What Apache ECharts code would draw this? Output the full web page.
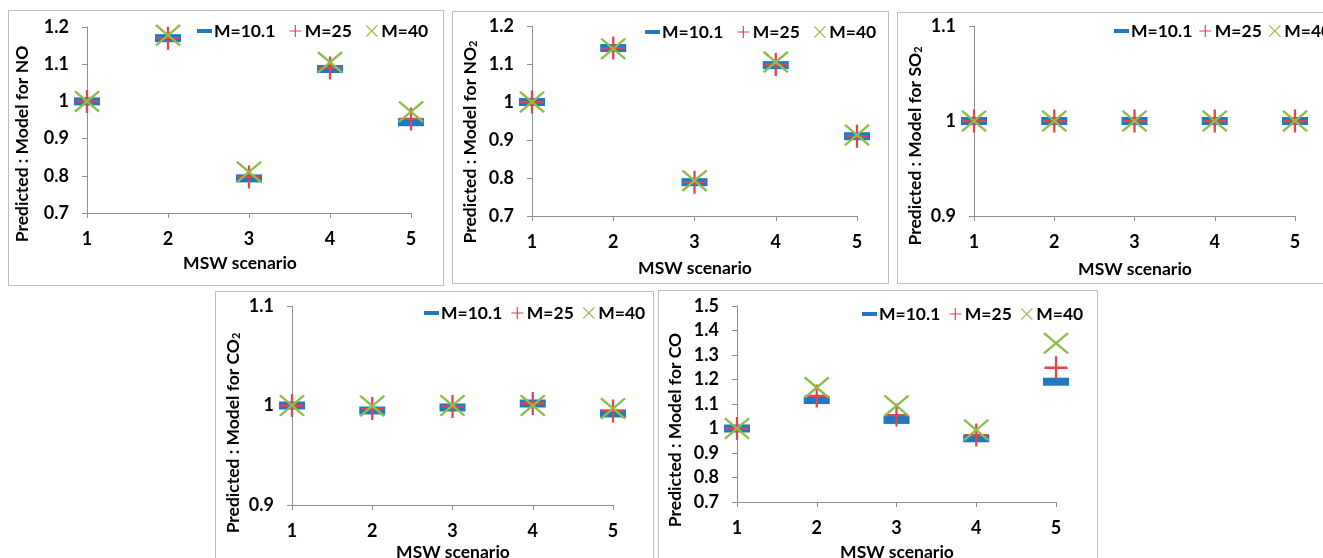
<!DOCTYPE html>
<html>
<head>
<meta charset="utf-8">
<script src="https://cdn.jsdelivr.net/npm/echarts@6/dist/echarts.min.js"></script>
<style>
html,body{margin:0;padding:0;background:#fff;}
#chart{width:1323px;height:558px;}
</style>
</head>
<body>
<div id="chart"></div>
<script>
// ---- data ----
const scenarios = [1, 2, 3, 4, 5];
const seriesNames = ['M=10.1', 'M=25', 'M=40'];

const NO_m10 = [1.000, 1.170, 0.793, 1.087, 0.944];
const NO_m25 = [1.000, 1.170, 0.797, 1.090, 0.953];
const NO_m40 = [1.000, 1.178, 0.810, 1.105, 0.972];

const NO2_m10 = [1.000, 1.142, 0.789, 1.097, 0.910];
const NO2_m25 = [1.000, 1.142, 0.789, 1.099, 0.910];
const NO2_m40 = [1.000, 1.140, 0.793, 1.105, 0.913];

const SO2_m10 = [1.000, 1.000, 1.000, 1.000, 1.000];
const SO2_m25 = [1.000, 1.000, 1.000, 1.000, 1.000];
const SO2_m40 = [1.000, 1.000, 1.000, 1.000, 1.000];

const CO2_m10 = [1.000, 0.995, 0.998, 1.002, 0.992];
const CO2_m25 = [1.000, 0.997, 0.999, 1.002, 0.9945];
const CO2_m40 = [1.000, 0.9995, 1.000, 1.000, 0.997];

const CO_m10 = [1.000, 1.116, 1.035, 0.960, 1.191];
const CO_m25 = [1.000, 1.133, 1.055, 0.973, 1.248];
const CO_m40 = [1.000, 1.167, 1.093, 0.994, 1.348];

const yTicksNO = [0.7, 1.2, 0.1];
const yTicksNO2 = [0.7, 1.2, 0.1];
const yTicksSO2 = [0.9, 1.1, 0.1];
const yTicksCO2 = [0.9, 1.1, 0.1];
const yTicksCO = [0.7, 1.5, 0.1];

const xTitle = 'MSW scenario';
const yTitleBase = 'Predicted : Model for ';

// ---- styling ----
const FONT = 'Lato';
const FS = 18;
const FL = 17.5;
const FT = 17.5;
const BLUE = '#1f78c1';
const RED = '#e2444a';
const GREEN = '#8cbd48';
const AXIS = '#8f8f8f';
const FRAME = '#bdbdbd';

const SYM_DASH = 'path://M0,0h30v8h-30z';
const SYM_PLUS = 'path://M45,0h10v45h45v10h-45v45h-10v-45h-45v-10h45z';
const SYM_X = 'path://M0,7L7,0L50,43L93,0L100,7L57,50L100,93L93,100L50,57L7,100L0,93L43,50Z';

const panels = [
  { sets: [NO_m10, NO_m25, NO_m40], y: yTicksNO, sub: 'NO', subNum: '',
    grid: {left: 87, top: 27, width: 324, height: 186},
    frame: [8, 10, 435, 275], legend: {left: 192, top: 17, gap: 14},
    yt: [22, 144], xt: [240, 263] },
  { sets: [NO2_m10, NO2_m25, NO2_m40], y: yTicksNO2, sub: 'NO', subNum: '2',
    grid: {left: 532, top: 26, width: 325, height: 190},
    frame: [452, 11, 436, 272], legend: {left: 640, top: 18, gap: 14},
    yt: [470, 142], xt: [695, 268] },
  { sets: [SO2_m10, SO2_m25, SO2_m40], y: yTicksSO2, sub: 'SO', subNum: '2',
    grid: {left: 974, top: 26, width: 321, height: 190},
    frame: [897, 12, 440, 271], legend: {left: 1109, top: 17, gap: 7},
    yt: [915, 146], xt: [1135, 269] },
  { sets: [CO2_m10, CO2_m25, CO2_m40], y: yTicksCO2, sub: 'CO', subNum: '2',
    grid: {left: 292, top: 306, width: 321, height: 199},
    frame: [215, 291, 438, 280], legend: {left: 419, top: 299, gap: 9},
    yt: [233, 433], xt: [453, 552] },
  { sets: [CO_m10, CO_m25, CO_m40], y: yTicksCO, sub: 'CO', subNum: '',
    grid: {left: 737, top: 306, width: 319, height: 196},
    frame: [658, 290, 439, 280], legend: {left: 857, top: 300, gap: 9},
    yt: [675, 430], xt: [897, 552] }
];

const grids = [], xAxes = [], yAxes = [], series = [], legends = [], graphics = [];
const symbols = [SYM_DASH, SYM_PLUS, SYM_X];
const sizes = [[26, 8], [23, 23], [26, 22]];
const colors = [BLUE, RED, GREEN];

panels.forEach((p, i) => {
  graphics.push({
    type: 'rect', z: -1, silent: true,
    shape: {x: p.frame[0] + 0.5, y: p.frame[1] + 0.5, width: p.frame[2], height: p.frame[3]},
    style: {fill: 'none', stroke: FRAME, lineWidth: 1}
  });
  grids.push(Object.assign({containLabel: false}, p.grid));
  xAxes.push({
    gridIndex: i, type: 'value', min: 1, max: 5, interval: 1,
    splitLine: {show: false},
    axisLine: {show: true, lineStyle: {color: AXIS, width: 1}},
    axisTick: {show: true, length: 5, lineStyle: {color: AXIS}},
    axisLabel: {margin: 17, color: '#000', fontFamily: FONT, fontWeight: 'bold', fontSize: FS}
  });
  yAxes.push({
    gridIndex: i, type: 'value', min: p.y[0], max: p.y[1], interval: p.y[2],
    splitLine: {show: false},
    axisLine: {show: true, lineStyle: {color: AXIS, width: 1}},
    axisTick: {show: true, length: 5, lineStyle: {color: AXIS}},
    axisLabel: {margin: 18, color: '#000', fontFamily: FONT, fontWeight: 'bold', fontSize: FS}
  });
  p.sets.forEach((vals, k) => {
    series.push({
      type: 'scatter', name: seriesNames[k], xAxisIndex: i, yAxisIndex: i,
      clip: false, symbol: symbols[k], symbolSize: sizes[k],
      itemStyle: {color: colors[k], opacity: 1},
      data: scenarios.map((s, j) => [s, vals[j]]),
      z: 2 + k
    });
  });
  legends.push({
    left: p.legend.left, top: p.legend.top, itemGap: p.legend.gap, width: 600,
    itemWidth: 15, itemHeight: 12, orient: 'horizontal',
    data: seriesNames, selectedMode: false,
    textStyle: {color: '#000', fontFamily: FONT, fontWeight: 'bold', fontSize: FL, padding: [0,0,0,-3]}
  });
  const rich = {
    t: {fontFamily: FONT, fontWeight: 'bold', fontSize: FT, fill: '#000'},
    s: {fontFamily: FONT, fontWeight: 'bold', fontSize: 11, fill: '#000', verticalAlign: 'bottom', lineHeight: 12}
  };
  graphics.push({
    type: 'text', silent: true, x: p.yt[0], y: p.yt[1], rotation: Math.PI / 2,
    style: {
      text: '{t|' + yTitleBase + p.sub + '}' + (p.subNum ? '{s|' + p.subNum + '}' : ''),
      rich: rich, align: 'center', verticalAlign: 'middle',
      fontFamily: FONT, fontWeight: 'bold', fontSize: FT, fill: '#000'
    }
  });
  graphics.push({
    type: 'text', silent: true, x: p.xt[0], y: p.xt[1],
    style: {
      text: xTitle, align: 'center', verticalAlign: 'middle',
      fontFamily: FONT, fontWeight: 'bold', fontSize: FT, fill: '#000'
    }
  });
});

const chart = echarts.init(document.getElementById('chart'), null, {renderer: 'canvas'});
chart.setOption({
  animation: false,
  backgroundColor: '#fff',
  grid: grids, xAxis: xAxes, yAxis: yAxes, series: series,
  legend: legends, graphic: graphics
});
</script>
</body>
</html>
